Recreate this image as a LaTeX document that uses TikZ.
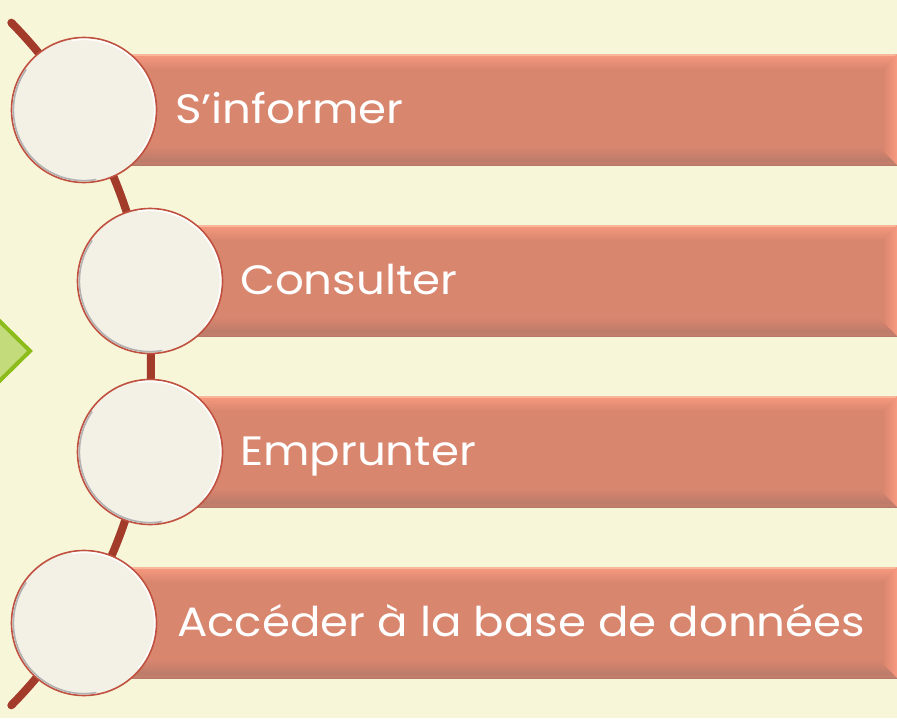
\documentclass[tikz,border=0pt]{standalone}
\usepackage{fontspec}
\setmainfont{Poppins}
\newfontfamily\widefont[FakeStretch=1.1]{Poppins}
\definecolor{bg}{HTML}{F8F6D9}
\definecolor{arcc}{HTML}{A33B2B}
\definecolor{barmain}{HTML}{D9866F}
\definecolor{barlight}{HTML}{F89A7F}
\definecolor{bardark}{HTML}{B57868}
\definecolor{circfill}{HTML}{F3F0E5}
\definecolor{circedge}{HTML}{C0503F}
\definecolor{grfill}{HTML}{C3DB7B}
\definecolor{grline}{HTML}{8BBC1A}
\begin{document}
\begin{tikzpicture}[x=1pt,y=-1pt,
  circ/.style={circle, minimum size=145pt, inner sep=0pt, fill=circfill, draw=circedge, line width=1.6pt},
  lbl/.style={anchor=base west, inner sep=0pt, text=white, font=\widefont\fontsize{41}{50}\selectfont}]
\useasboundingbox (0,0) rectangle (897,718);
\clip (0,0) rectangle (897,718);
\fill[bg] (0,0) rectangle (897,718);
% green arrow tip
\draw[fill=grfill, draw=grline, line width=4pt, miter limit=10] (-30,292) -- (30,351) -- (-30,410) -- cycle;
% arc
\draw[arcc, line width=8pt, line cap=round] plot[domain=-44.5:44.5, samples=90] ({-336+487*cos(\x)},{364+487*sin(\x)});
% bars
\foreach \yy/\xx in {54/84,225/150,396/150,567/84}{
  \fill[barmain] (\xx,\yy) rectangle (897,\yy+111);
  \shade[top color=barlight, bottom color=barmain] (\xx,\yy) rectangle (897,\yy+15);
  \shade[top color=barmain, bottom color=bardark] (\xx,\yy+92) rectangle (897,\yy+111);
  \fill[bardark!60!barmain] (\xx,\yy+108) rectangle (897,\yy+111);
  \fill[barlight!70!bg] (\xx,\yy) rectangle (897,\yy+1.5);
  \shade[left color=barmain, right color=barlight] (883,\yy+14) -- (897,\yy) -- (897,\yy+111) -- (883,\yy+97) -- cycle;
}
% circles
\foreach \i/\xx/\yy in {1/84/110,2/150/281,3/150/452,4/84/623}{
  \node[circ] (c\i) at (\xx,\yy) {};
  \draw[black!30, line width=1.6pt] ([shift={(c\i.center)}] 80:70.6) arc[start angle=80, end angle=215, radius=70.6];
  \draw[white, line width=1.5pt] ([shift={(c\i.center)}] 260:70.6) arc[start angle=260, end angle=400, radius=70.6];
}
% labels
\node[lbl] (t1) at (175,123) {S’informer};
\node[lbl] (t2) at (240,294) {Consulter};
\node[lbl] (t3) at (240,465) {Emprunter};
\node[lbl] (t4) at (177,636) {Accéder à la base de données};
\end{tikzpicture}
\end{document}
